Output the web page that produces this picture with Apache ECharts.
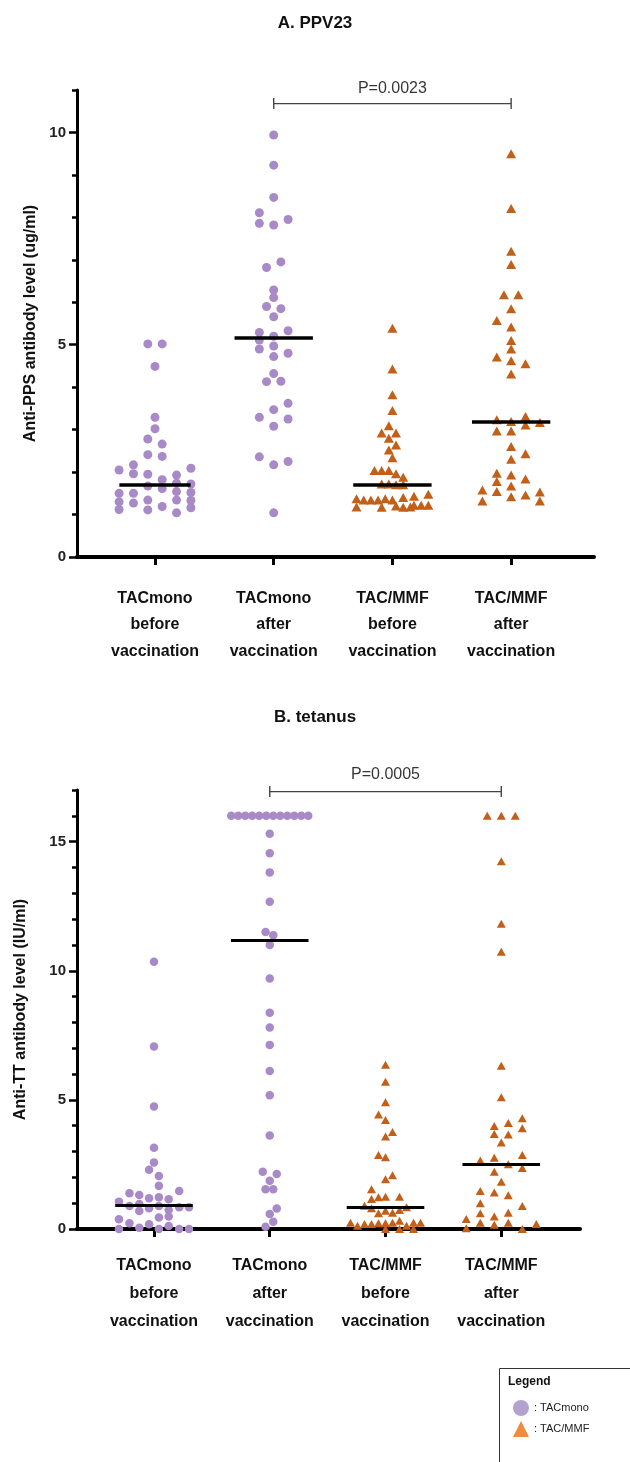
<!doctype html>
<html>
<head>
<meta charset="utf-8">
<title>PPV23 / tetanus antibody levels</title>
<script src="https://cdn.jsdelivr.net/npm/echarts@6/dist/echarts.min.js"></script>
<style>
html,body{margin:0;padding:0;background:#fff;}
#main{width:630px;height:1462px;}
</style>
</head>
<body>
<div id="main"></div>
<script>
// categories
var groupNames = ['TACmono\nbefore\nvaccination', 'TACmono\nafter\nvaccination', 'TAC/MMF\nbefore\nvaccination', 'TAC/MMF\nafter\nvaccination'];
var groupSeries = ['TACmono', 'TACmono', 'TAC/MMF', 'TAC/MMF'];

// A. PPV23 - each point is [swarm slot, value]
var ppvMonoBefore = [
  [0,4.49],[0,3.29],[0,3.02],
  [-0.5,5.02],[-0.5,2.78],[-0.5,2.41],[-0.5,1.95],[-0.5,1.67],[-0.5,1.34],[-0.5,1.11],
  [0.5,5.02],[0.5,2.66],[0.5,2.37],[0.5,1.82],[0.5,1.61],[0.5,1.19],
  [-2.5,2.05],[-2.5,1.50],[-2.5,1.30],[-2.5,1.12],
  [-1.5,2.17],[-1.5,1.96],[-1.5,1.50],[-1.5,1.27],
  [1.5,1.93],[1.5,1.74],[1.5,1.54],[1.5,1.34],[1.5,1.04],
  [2.5,2.09],[2.5,1.72],[2.5,1.52],[2.5,1.33],[2.5,1.16]
];
var ppvMonoAfter = [
  [0,9.94],[0,9.23],[0,8.47],[0,7.82],[0,6.29],[0,6.11],[0,5.66],[0,5.20],[0,4.97],[0,4.72],[0,4.32],[0,3.47],[0,3.08],[0,2.17],[0,1.04],
  [-1,8.11],[-1,7.86],[-1,5.29],[-1,5.11],[-1,4.90],[-1,3.29],[-1,2.36],
  [1,7.95],[1,5.33],[1,4.80],[1,3.62],[1,3.25],[1,2.25],
  [-0.5,6.82],[-0.5,5.90],[-0.5,4.13],
  [0.5,6.95],[0.5,5.85],[0.5,4.14]
];
var ppvMmfBefore = [
  [0,5.39],[0,4.43],[0,3.82],[0,3.45],[-0.25,3.09],[-0.75,2.92],[0.25,2.92],[-0.25,2.80],[0.25,2.64],[-0.25,2.52],[0,2.34],
  [-1.25,2.04],[-0.75,2.04],[-0.25,2.04],[0.25,1.96],[0.75,1.88],[-0.75,1.72],[-0.25,1.72],[0.25,1.70],[0.75,1.70],
  [-2.5,1.37],[-2,1.34],[-1.5,1.34],[-1,1.34],[-0.5,1.37],[0,1.34],[0.75,1.40],[1.5,1.43],[2.5,1.48],
  [-2.5,1.18],[-0.75,1.17],[0.25,1.20],[0.75,1.17],[1.25,1.18],[1.5,1.22],[2,1.22],[2.5,1.22]
];
var ppvMmfAfter = [
  [0,9.50],[0,8.21],[0,7.20],[0,6.89],[0,5.85],[0,5.42],[0,5.10],[0,4.90],[0,4.62],[0,4.31],[0,3.19],[0,2.97],[0,2.60],[0,2.30],[0,1.93],[0,1.67],[0,1.42],
  [-0.5,6.18],[0.5,6.18],
  [-1,5.57],[-1,4.71],[-1,3.23],[-1,2.97],[-1,1.97],[-1,1.78],[-1,1.54],
  [1,4.55],[1,3.31],[1,3.11],[1,2.43],[1,1.84],[1,1.46],
  [-2,1.58],[-2,1.32],
  [2,3.17],[2,1.53],[2,1.32]
];
var ppvMedians = [1.71, 5.16, 1.71, 3.19];

// B. tetanus
var ttMonoBefore = [
  [0,10.35],[0,7.07],[0,4.74],[0,3.15],[0,2.58],[-0.7,2.29],[0.7,2.05],[0.7,1.67],
  [-3.5,1.38],[-2.1,1.32],[-0.7,1.19],[0.7,1.23],[2.1,1.15],[3.6,1.47],
  [-5,1.06],[-3.5,0.89],[-2.1,0.97],[-2.1,0.70],[-0.7,0.80],[0.7,0.89],[2.1,0.74],[3.6,0.84],[5,0.84],
  [-5,0.38],[-3.5,0.22],[-2.1,0.05],[-0.7,0.18],[0.7,0.45],[0.7,0],[2.1,0.48],[2.1,0.12],[3.6,0],[5,0],[-5,0]
];
var ttMonoAfter = [
  [-5.5,16],[-4.5,16],[-3.5,16],[-2.5,16],[-1.5,16],[-0.5,16],[0.5,16],[1.5,16],[2.5,16],[3.5,16],[4.5,16],[5.5,16],
  [0,15.31],[0,14.55],[0,13.81],[0,12.67],[-0.6,11.50],[0.5,11.38],[0,11.0],[0,9.70],[0,8.37],[0,7.80],[0,7.13],[0,6.12],[0,5.18],[0,3.62],
  [-1,2.22],[1,2.13],[0,1.87],[-0.6,1.54],[0.5,1.54],[1,0.79],[0,0.58],[0.5,0.28],[-0.6,0.09]
];
var ttMmfBefore = [
  [0,6.36],[0,5.70],[0,4.91],[-1,4.43],[0,4.22],[1,3.76],[0,3.58],[-1,2.87],[0,2.78],[1,2.08],[0,1.93],[-2,1.54],
  [-3,0.90],[-2,1.16],[-1,1.23],[0,1.25],[2,1.25],[-2,0.80],[-1,0.61],[0,0.71],[1,0.63],[2,0.74],[3,0.84],
  [-5,0.24],[-4,0.13],[-3,0.19],[-2,0.19],[-1,0.22],[0,0.22],[1,0.24],[2,0.32],[3,0.13],[4,0.24],[5,0.24],[0,0],[2,0],[4,0]
];
var ttMmfAfter = [
  [-2,16],[0,16],[2,16],[0,14.24],[0,11.82],[0,10.74],[0,6.32],[0,5.10],
  [-1,3.99],[1,4.10],[3,4.29],[-1,3.68],[1,3.66],[3,3.90],[0,3.35],
  [-3,2.65],[-1,2.76],[3,2.87],[1,2.51],[3,2.36],[-1,2.22],[0,1.83],
  [-3,1.47],[-1,1.41],[1,1.31],[-3,1.00],[3,0.89],[-3,0.61],[-1,0.48],[1,0.63],
  [-5,0.39],[-3,0.24],[-1,0.16],[1,0.24],[5,0.19],[-5,0.03],[3,0]
];
var ttMedians = [0.92, 11.17, 0.84, 2.49];

// p-value brackets
var ppvBracket = {from: 1, to: 3, y: 10.68, text: 'P=0.0023'};
var ttBracket = {from: 1, to: 3, y: 16.94, text: 'P=0.0005'};

// y ticks
var ppvTicks = [0, 5, 10];
var ppvMinor = [1, 2, 3, 4, 6, 7, 8, 9, 11];
var ttTicks = [0, 5, 10, 15];
var ttMinor = [1, 2, 3, 4, 6, 7, 8, 9, 11, 12, 13, 14, 16, 17];

var PURPLE = '#a98ac8';
var ORANGE = '#c2601a';
var FONT = 'Liberation Sans';

var myChart = echarts.init(document.getElementById('main'), null, {renderer: 'canvas'});

function swarm(pts, g, slot) {
  return pts.map(function (p) { return [g + p[0] * slot, p[1]]; });
}

function groupSeriesList(groups, medians, panel, slot, sizes, lineW, halfW) {
  var out = [];
  groups.forEach(function (pts, g) {
    var mono = g < 2;
    var hw = halfW[g];
    out.push({
      type: 'scatter',
      name: groupSeries[g],
      xAxisIndex: panel,
      yAxisIndex: panel * 2,
      symbol: mono ? 'circle' : 'triangle',
      symbolSize: mono ? sizes[0] : sizes[1],
      itemStyle: {color: mono ? PURPLE : ORANGE, opacity: 1},
      data: swarm(pts, g, slot),
      markLine: {
        silent: true,
        symbol: ['none', 'none'],
        label: {show: false},
        lineStyle: {color: '#000', width: lineW, type: 'solid'},
        data: [[{coord: [g - hw, medians[g]]}, {coord: [g + hw, medians[g]]}]]
      }
    });
  });
  return out;
}

function bracketSeries(b, panel, dist) {
  return [{
    type: 'line',
    xAxisIndex: panel,
    yAxisIndex: panel * 2,
    data: [[b.from, b.y], [b.to, b.y]],
    symbol: 'rect',
    symbolSize: [1.4, 11],
    itemStyle: {color: '#444'},
    lineStyle: {color: '#444', width: 1.3},
    silent: true
  }, {
    type: 'scatter',
    xAxisIndex: panel,
    yAxisIndex: panel * 2,
    data: [[(b.from + b.to) / 2, b.y]],
    symbolSize: 0,
    silent: true,
    label: {show: true, position: 'top', distance: dist, formatter: b.text,
      fontFamily: FONT, fontSize: 16, color: '#000'}
  }];
}

function xAxis(panel, min, max, margin, lh) {
  return {
    type: 'value', gridIndex: panel, min: min, max: max,
    axisLine: {onZero: false, lineStyle: {color: '#000', width: 4}},
    axisTick: {show: true, customValues: [0, 1, 2, 3], length: 8, lineStyle: {color: '#000', width: 3}},
    axisLabel: {
      customValues: [0, 1, 2, 3],
      formatter: function (v) { return groupNames[Math.round(v)]; },
      fontFamily: FONT, fontSize: 16, fontWeight: 'bold', color: '#111',
      lineHeight: lh, margin: margin
    },
    splitLine: {show: false}
  };
}

function yAxes(panel, max, ticks, minor, name, nameGap) {
  return [{
    type: 'value', gridIndex: panel, min: 0, max: max, position: 'left',
    name: name, nameLocation: 'middle', nameGap: nameGap,
    nameTextStyle: {fontFamily: FONT, fontSize: 16, fontWeight: 'bold', color: '#111'},
    axisLine: {show: true, onZero: false, lineStyle: {color: '#000', width: 3}},
    axisTick: {show: true, customValues: ticks, length: 8, lineStyle: {color: '#000', width: 2.5}},
    axisLabel: {customValues: ticks, fontFamily: FONT, fontSize: 15, fontWeight: 'bold', color: '#222', margin: 11},
    splitLine: {show: false}
  }, {
    type: 'value', gridIndex: panel, min: 0, max: max, position: 'left', offset: 0,
    axisLine: {show: false, onZero: false},
    axisTick: {show: true, customValues: minor, length: 5, lineStyle: {color: '#000', width: 2.5}},
    axisLabel: {show: false},
    splitLine: {show: false}
  }];
}

var series = []
  .concat(groupSeriesList([ppvMonoBefore, ppvMonoAfter, ppvMmfBefore, ppvMmfAfter], ppvMedians, 0, 0.121, [9, [10, 9]], 3.5, [0.3, 0.33, 0.33, 0.33]))
  .concat(groupSeriesList([ttMonoBefore, ttMonoAfter, ttMmfBefore, ttMmfAfter], ttMedians, 1, 0.0605, [8.5, [9, 8]], 3, [0.335, 0.335, 0.335, 0.335]))
  .concat(bracketSeries(ppvBracket, 0, 7))
  .concat(bracketSeries(ttBracket, 1, 9));

myChart.setOption({
  animation: false,
  backgroundColor: '#fff',
  title: [
    {text: 'A. PPV23', left: 'center', top: 10, textStyle: {fontFamily: FONT, fontSize: 17, fontWeight: 'bold', color: '#111'}},
    {text: 'B. tetanus', left: 'center', top: 704, textStyle: {fontFamily: FONT, fontSize: 17, fontWeight: 'bold', color: '#111'}}
  ],
  grid: [
    {left: 77, top: 90, width: 517, height: 467},
    {left: 77, top: 790, width: 503, height: 439}
  ],
  xAxis: [
    xAxis(0, -0.657, 3.698, 28, 26.5),
    xAxis(1, -0.665, 3.68, 23, 28)
  ],
  yAxis: []
    .concat(yAxes(0, 11, ppvTicks, ppvMinor, 'Anti-PPS antibody level (ug/ml)', 38))
    .concat(yAxes(1, 17, ttTicks, ttMinor, 'Anti-TT antibody level (IU/ml)', 48)),
  legend: {
    orient: 'vertical', left: 508, top: 1395,
    itemWidth: 16, itemHeight: 16, itemGap: 5,
    selectedMode: false,
    formatter: ': {name}',
    textStyle: {fontFamily: FONT, fontSize: 11, color: '#222'},
    data: [
      {name: 'TACmono', icon: 'circle', itemStyle: {color: '#b3a2cf'}},
      {name: 'TAC/MMF', icon: 'triangle', itemStyle: {color: '#f08a3c'}}
    ]
  },
  graphic: [
    {type: 'rect', left: 497, top: 1366, shape: {width: 140, height: 120},
      style: {fill: 'none', stroke: '#333', lineWidth: 1}, silent: true},
    {type: 'text', left: 508, top: 1376,
      style: {text: 'Legend', fontFamily: FONT, fontSize: 12, fontWeight: 'bold', fill: '#111'}, silent: true}
  ],
  series: series
});
</script>
</body>
</html>
